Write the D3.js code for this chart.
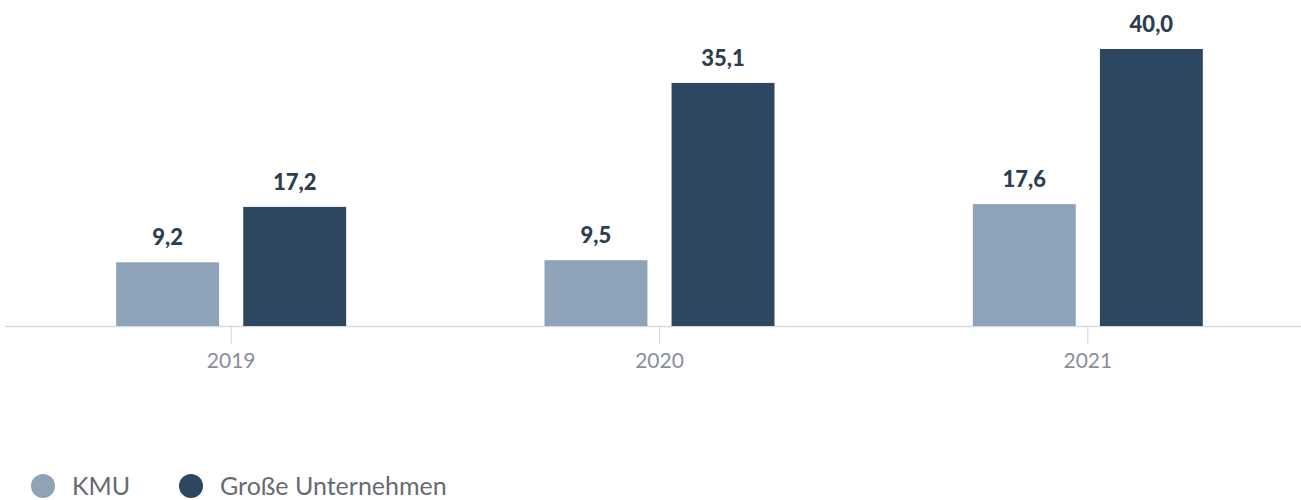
<!DOCTYPE html>
<html>
<head>
<meta charset="utf-8">
<script src="https://cdn.jsdelivr.net/npm/d3@7"></script>
<style>
  body { margin: 0; background: #fff; }
  svg { font-family: Lato, "Noto Sans", sans-serif; }
</style>
</head>
<body>
<svg id="chart" width="1301" height="500"></svg>
<script>
const years = ['2019', '2020', '2021'];
const seriesNames = ['KMU', 'Große Unternehmen'];
const kmu = [9.2, 9.5, 17.6];
const grosse = [17.2, 35.1, 40.0];
const colors = ['#8fa3b8', '#2e4761'];

const svg = d3.select('#chart');
const width = 1301;
const baseline = 326;

const x0 = d3.scaleBand()
  .domain(years)
  .range([17, 1302])
  .padding(0);

const x1 = d3.scaleBand()
  .domain(seriesNames)
  .range([-115, 115])
  .paddingInner(0.19);

const y = d3.scaleLinear()
  .domain([0, 40])
  .range([baseline, 49]);

const rows = years.map((yr, i) => ({
  year: yr,
  values: [
    {name: seriesNames[0], value: kmu[i], color: colors[0]},
    {name: seriesNames[1], value: grosse[i], color: colors[1]}
  ]
}));

// axis line across full width
svg.append('line')
  .attr('x1', 5).attr('x2', width)
  .attr('y1', baseline + 0.5).attr('y2', baseline + 0.5)
  .attr('stroke', '#d6dbe2')
  .attr('stroke-width', 1.5);

const xAxis = svg.append('g')
  .attr('transform', `translate(0, ${baseline})`)
  .call(d3.axisBottom(x0).tickSize(18).tickPadding(9));
xAxis.select('.domain').remove();
xAxis.selectAll('.tick line').attr('stroke', '#cfd5dc');
xAxis.selectAll('.tick text')
  .attr('fill', '#8a8f96')
  .attr('font-size', 21)
  .attr('font-family', 'Lato, sans-serif');

const groups = svg.selectAll('g.grp')
    .data(rows)
  .join('g')
    .attr('class', 'grp')
    .attr('transform', d => `translate(${x0(d.year) + x0.bandwidth() / 2}, 0)`);

groups.selectAll('rect')
    .data(d => d.values)
  .join('rect')
    .attr('x', d => x1(d.name))
    .attr('width', x1.bandwidth())
    .attr('y', d => y(d.value))
    .attr('height', d => baseline - y(d.value))
    .attr('fill', d => d.color);

groups.selectAll('text.val')
    .data(d => d.values)
  .join('text')
    .attr('class', 'val')
    .attr('x', d => x1(d.name) + x1.bandwidth() / 2)
    .attr('y', d => y(d.value) - 17)
    .attr('text-anchor', 'middle')
    .attr('font-weight', 900)
    .attr('font-size', 22)
    .attr('fill', '#2c3e50')
    .text(d => d3.format('.1f')(d.value).replace('.', ','));

// legend
const legendX = [43, 191];
const legend = svg.selectAll('g.legend')
    .data(seriesNames)
  .join('g')
    .attr('class', 'legend')
    .attr('transform', (d, i) => `translate(${legendX[i]}, 486)`);

legend.append('circle')
  .attr('r', 12)
  .attr('fill', (d, i) => colors[i]);

legend.append('text')
  .attr('x', 29)
  .attr('dy', '0.35em')
  .attr('font-size', 25)
  .attr('fill', '#666b72')
  .text(d => d);
</script>
</body>
</html>
